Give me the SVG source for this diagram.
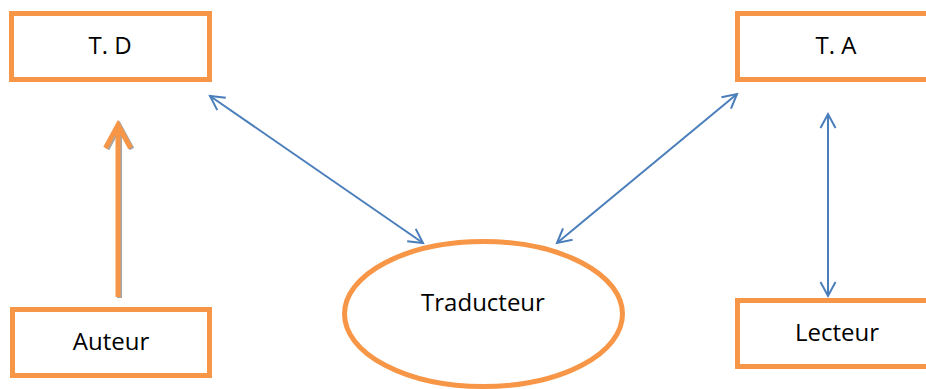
<svg xmlns="http://www.w3.org/2000/svg" width="926" height="389" viewBox="0 0 926 389">
<style>
.box{fill:#fff;stroke:#f79646;stroke-width:5}
.lbl{font-family:"Open Sans","Liberation Sans",sans-serif;font-size:24px;fill:#000;text-anchor:middle}
.blue{stroke:#4a7ebb;stroke-width:2;fill:none;marker-start:url(#ah);marker-end:url(#ah)}
</style>
<defs>
<marker id="ah" markerUnits="userSpaceOnUse" markerWidth="20" markerHeight="20" refX="15" refY="8" orient="auto-start-reverse" viewBox="0 0 20 16">
<path d="M1,0.5 L15,8 L1,15.5" fill="none" stroke="#4a7ebb" stroke-width="2"/>
</marker>
</defs>
<rect width="926" height="389" fill="#fff"/>
<g id="connectors">
<g id="auteur-td">
<path d="M119.5,298 L119.5,126 M107,149 L119.5,126 L132,149" fill="none" stroke="#a6a6a6" stroke-width="5" stroke-linejoin="miter"/>
<path d="M118,297 L118,125 M105.5,148 L118,125 L130.5,148" fill="none" stroke="#f79646" stroke-width="5" stroke-linejoin="miter"/>
</g>
<line class="blue" x1="210" y1="96" x2="423" y2="243"/>
<line class="blue" x1="737" y1="94" x2="557" y2="243"/>
<line class="blue" x1="828" y1="114" x2="828" y2="296"/>
</g>
<g id="td">
<rect class="box" x="11.5" y="13.5" width="198" height="66"/>
<text class="lbl" x="110" y="54">T. D</text>
</g>
<g id="ta">
<rect class="box" x="737.5" y="13.5" width="198" height="66"/>
<text class="lbl" x="836" y="54">T. A</text>
</g>
<g id="auteur">
<rect class="box" x="12.5" y="309.5" width="197" height="66"/>
<text class="lbl" x="111" y="350">Auteur</text>
</g>
<g id="lecteur">
<rect class="box" x="737.5" y="300.5" width="198" height="66"/>
<text class="lbl" x="837" y="341">Lecteur</text>
</g>
<g id="traducteur">
<ellipse cx="483.5" cy="314" rx="139" ry="72.5" fill="#fff" stroke="#f79646" stroke-width="5"/>
<text class="lbl" x="483" y="311">Traducteur</text>
</g>
</svg>
